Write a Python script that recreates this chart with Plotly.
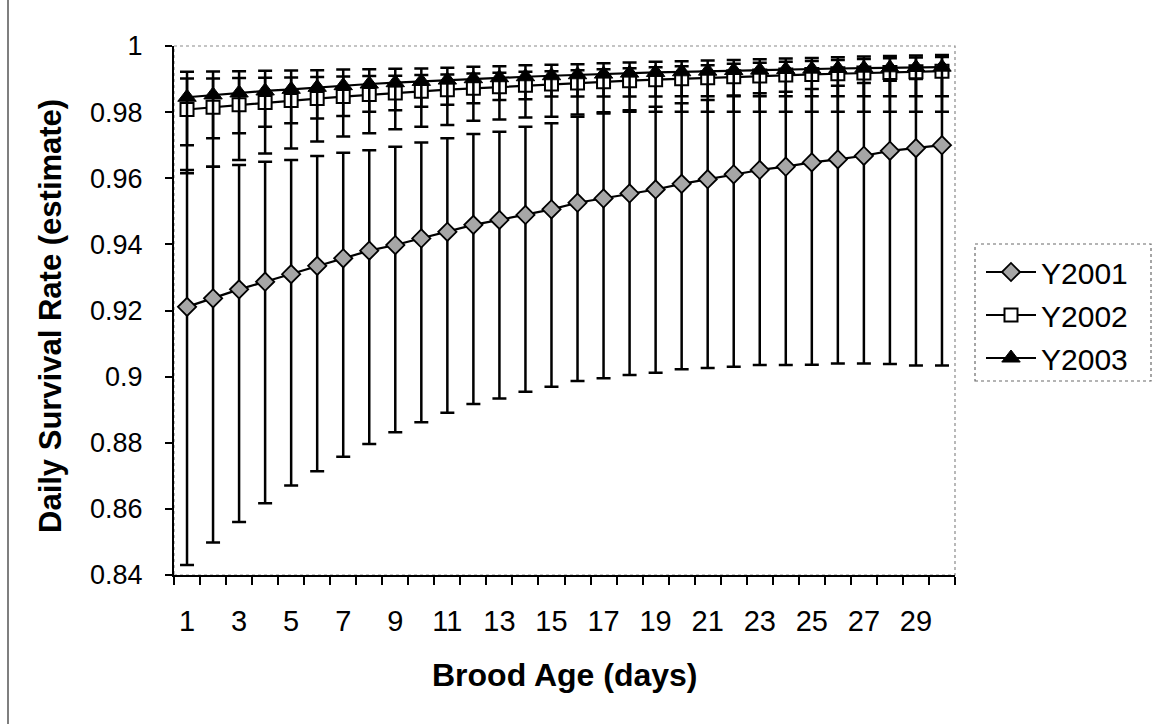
import plotly.graph_objects as go

# ---------------- data ----------------
brood_age = list(range(1, 31))

y2001_mean = [0.9211, 0.9237, 0.9264, 0.9287, 0.9310, 0.9335, 0.9358, 0.9381, 0.9398, 0.9418,
              0.9438, 0.9459, 0.9474, 0.9489, 0.9506, 0.9526, 0.9539, 0.9554, 0.9566, 0.9583,
              0.9597, 0.9612, 0.9625, 0.9635, 0.9648, 0.9657, 0.9668, 0.9683, 0.9691, 0.9700]
y2001_upper = [0.9625, 0.9635, 0.9640, 0.9650, 0.9655, 0.9667, 0.9677, 0.9685, 0.9695, 0.9708,
               0.9721, 0.9734, 0.9741, 0.9756, 0.9766, 0.9786, 0.9796, 0.9806, 0.9816, 0.9827,
               0.9837, 0.9850, 0.9857, 0.9862, 0.9870, 0.9880, 0.9888, 0.9895, 0.9900, 0.9908]
y2001_lower = [0.8430, 0.8498, 0.8560, 0.8617, 0.8671, 0.8714, 0.8758, 0.8796, 0.8832, 0.8862,
               0.8891, 0.8917, 0.8934, 0.8954, 0.8969, 0.8987, 0.8995, 0.9005, 0.9012, 0.9022,
               0.9026, 0.9030, 0.9035, 0.9035, 0.9036, 0.9040, 0.9040, 0.9038, 0.9034, 0.9034]

y2002_mean = [0.9808, 0.9815, 0.9822, 0.9829, 0.9835, 0.9841, 0.9847, 0.9853, 0.9858, 0.9863,
              0.9868, 0.9872, 0.9877, 0.9881, 0.9885, 0.9888, 0.9892, 0.9895, 0.9898, 0.9901,
              0.9904, 0.9907, 0.9909, 0.9912, 0.9914, 0.9916, 0.9918, 0.9920, 0.9922, 0.9924]
y2002_upper = [0.9902, 0.9902, 0.9903, 0.9904, 0.9905, 0.9906, 0.9908, 0.9909, 0.9910, 0.9912,
               0.9914, 0.9917, 0.9919, 0.9922, 0.9924, 0.9927, 0.9930, 0.9933, 0.9936, 0.9939,
               0.9942, 0.9946, 0.9949, 0.9952, 0.9955, 0.9958, 0.9961, 0.9963, 0.9965, 0.9967]
y2002_lower = [0.9615, 0.9635, 0.9655, 0.9675, 0.9690, 0.9711, 0.9726, 0.9736, 0.9748, 0.9756,
               0.9761, 0.9774, 0.9778, 0.9784, 0.9786, 0.9793, 0.9800, 0.9801, 0.9801, 0.9801,
               0.9801, 0.9801, 0.9801, 0.9801, 0.9801, 0.9801, 0.9801, 0.9801, 0.9801, 0.9801]

y2003_mean = [0.9845, 0.9852, 0.9858, 0.9864, 0.9869, 0.9875, 0.9880, 0.9885, 0.9889, 0.9893,
              0.9897, 0.9901, 0.9904, 0.9907, 0.9910, 0.9913, 0.9915, 0.9918, 0.9920, 0.9922,
              0.9924, 0.9926, 0.9927, 0.9929, 0.9930, 0.9932, 0.9933, 0.9934, 0.9935, 0.9936]
y2003_upper = [0.9922, 0.9923, 0.9924, 0.9925, 0.9926, 0.9927, 0.9929, 0.9930, 0.9931, 0.9932,
               0.9934, 0.9937, 0.9939, 0.9942, 0.9943, 0.9945, 0.9948, 0.9950, 0.9952, 0.9954,
               0.9956, 0.9958, 0.9960, 0.9962, 0.9964, 0.9966, 0.9968, 0.9970, 0.9971, 0.9973]
y2003_lower = [0.9700, 0.9721, 0.9736, 0.9756, 0.9766, 0.9781, 0.9788, 0.9801, 0.9806, 0.9816,
               0.9822, 0.9827, 0.9837, 0.9839, 0.9847, 0.9847, 0.9847, 0.9847, 0.9847, 0.9848,
               0.9848, 0.9848, 0.9848, 0.9848, 0.9848, 0.9848, 0.9848, 0.9848, 0.9848, 0.9848]

x_tick_vals = list(range(1, 31, 2))
x_tick_text = [str(v) for v in x_tick_vals]
y_tick_vals = [0.84, 0.86, 0.88, 0.90, 0.92, 0.94, 0.96, 0.98, 1.0]
y_tick_text = ["0.84", "0.86", "0.88", "0.9", "0.92", "0.94", "0.96", "0.98", "1"]

series = [
    ("Y2001", y2001_mean, y2001_upper, y2001_lower),
    ("Y2002", y2002_mean, y2002_upper, y2002_lower),
    ("Y2003", y2003_mean, y2003_upper, y2003_lower),
]

# ---------------- layout constants (pixels) ----------------
W, H = 1153, 724
L, R, T, B = 174, 955, 46, 575
FONT = "Liberation Sans, Arial, sans-serif"


def px(x):
    return (x - L) / (R - L)


def py(y):
    return (B - y) / (B - T)


marker_styles = {
    "Y2001": dict(symbol="diamond", size=14, color="#a6a6a6", line=dict(color="black", width=1.8)),
    "Y2002": dict(symbol="square", size=13, color="white", line=dict(color="black", width=2)),
    "Y2003": dict(symbol="triangle-up", size=16, color="black", line=dict(color="black", width=1)),
}

fig = go.Figure()
for name, mean, upper, lower in series:
    fig.add_trace(go.Scatter(
        x=brood_age, y=mean, name=name, mode="lines+markers",
        line=dict(color="black", width=2.2),
        marker=marker_styles[name],
        error_y=dict(type="data", symmetric=False,
                     array=[u - m for u, m in zip(upper, mean)],
                     arrayminus=[m - l for m, l in zip(mean, lower)],
                     color="black", thickness=2.5, width=7),
        legendgroup=name,
    ))

fig.update_layout(
    width=W, height=H,
    margin=dict(l=L, r=W - R, t=T, b=H - B, pad=0),
    paper_bgcolor="white", plot_bgcolor="white",
    font=dict(family=FONT, color="black"),
    showlegend=True,
    legend=dict(
        x=px(981), y=py(246), xanchor="left", yanchor="top",
        font=dict(size=30, family=FONT, color="black"),
        bgcolor="rgba(0,0,0,0)", borderwidth=0,
        traceorder="grouped", tracegroupgap=1,
        itemwidth=50,
    ),
    xaxis=dict(
        range=[0.5, 30.5], tickmode="array", tickvals=x_tick_vals, ticktext=x_tick_text,
        ticks="", showgrid=False, zeroline=False,
        showline=True, linecolor="black", linewidth=2,
        tickfont=dict(size=29, family=FONT, color="black"),
        ticklabelstandoff=19,
        minor=dict(tick0=0.5, dtick=1, ticks="outside", ticklen=8, tickwidth=1.5, tickcolor="black", showgrid=False),
    ),
    yaxis=dict(
        range=[0.84, 1.0], tickmode="array", tickvals=y_tick_vals, ticktext=y_tick_text,
        ticks="outside", ticklen=7, tickwidth=1.5, tickcolor="black",
        showgrid=False, zeroline=False,
        showline=True, linecolor="black", linewidth=2,
        tickfont=dict(size=27, family=FONT, color="black"),
        ticklabelstandoff=17,
    ),
    annotations=[
        dict(text="<b>Daily Survival Rate (estimate)</b>", textangle=-90,
             xref="paper", yref="paper", x=px(50), y=py(316),
             xanchor="center", yanchor="middle", showarrow=False,
             font=dict(size=31, family=FONT, color="black")),
        dict(text="<b>Brood Age (days)</b>",
             xref="paper", yref="paper", x=px(565), y=py(675),
             xanchor="center", yanchor="middle", showarrow=False,
             font=dict(size=32, family=FONT, color="black")),
    ],
    shapes=[
        # plot-area border (top/right dotted grey)
        dict(type="rect", xref="paper", yref="paper", x0=0, x1=1, y0=0, y1=1,
             line=dict(color="#8a8a8a", width=1.2, dash="dot"), layer="below"),
        # legend box
        dict(type="rect", xref="paper", yref="paper", x0=px(975), x1=px(1151), y0=py(381), y1=py(244),
             line=dict(color="#6a6a6a", width=1.2, dash="dot"), layer="below"),
        # outer frame line on the left
        dict(type="line", xref="paper", yref="paper", x0=px(8), x1=px(8), y0=py(724), y1=py(0),
             line=dict(color="#555555", width=1.5)),
    ],
)

fig.write_html("out.html")
